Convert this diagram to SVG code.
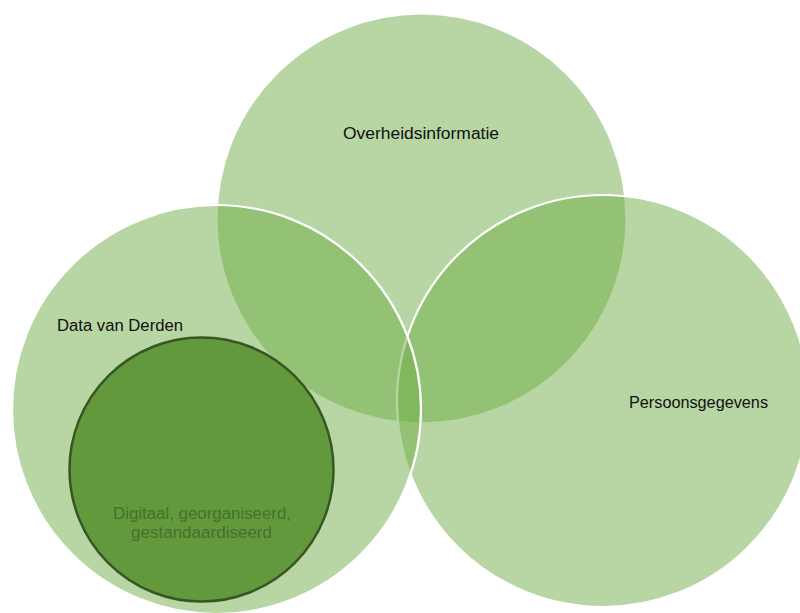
<svg xmlns="http://www.w3.org/2000/svg" width="800" height="613" viewBox="0 0 800 613">
<style>
.big{fill:#70AD47;fill-opacity:0.5;stroke:#FFFFFF;stroke-width:2.2}
.inner{fill:#63993D;stroke:#375623;stroke-width:2.5}
.lbl{font-family:"Liberation Sans",Arial,sans-serif;font-size:16px;fill:#111111}
.ilbl{font-family:"Liberation Sans",Arial,sans-serif;font-size:16px;fill:#46702B;text-anchor:middle}
</style>
<rect width="800" height="613" fill="#FFFFFF"/>
<g id="node-overheidsinformatie">
<circle class="big" cx="421.5" cy="218.5" r="205"/>
</g>
<g id="node-persoonsgegevens">
<circle class="big" cx="603" cy="401" r="206"/>
</g>
<g id="node-data-van-derden">
<circle class="big" cx="216.5" cy="409.5" r="204.5"/>
</g>
<g id="node-digitaal">
<circle class="inner" cx="201.5" cy="469.5" r="132"/>
</g>
<g id="labels">
<text class="lbl" x="343" y="139" textLength="156" lengthAdjust="spacingAndGlyphs">Overheidsinformatie</text>
<text class="lbl" x="629" y="408" textLength="139" lengthAdjust="spacingAndGlyphs">Persoonsgegevens</text>
<text class="lbl" x="57" y="331" textLength="126" lengthAdjust="spacingAndGlyphs">Data van Derden</text>
<text class="ilbl" x="202" y="519" textLength="178" lengthAdjust="spacingAndGlyphs">Digitaal, georganiseerd,</text>
<text class="ilbl" x="201.5" y="538" textLength="141" lengthAdjust="spacingAndGlyphs">gestandaardiseerd</text>
</g>
<g id="connectors"></g>
</svg>
